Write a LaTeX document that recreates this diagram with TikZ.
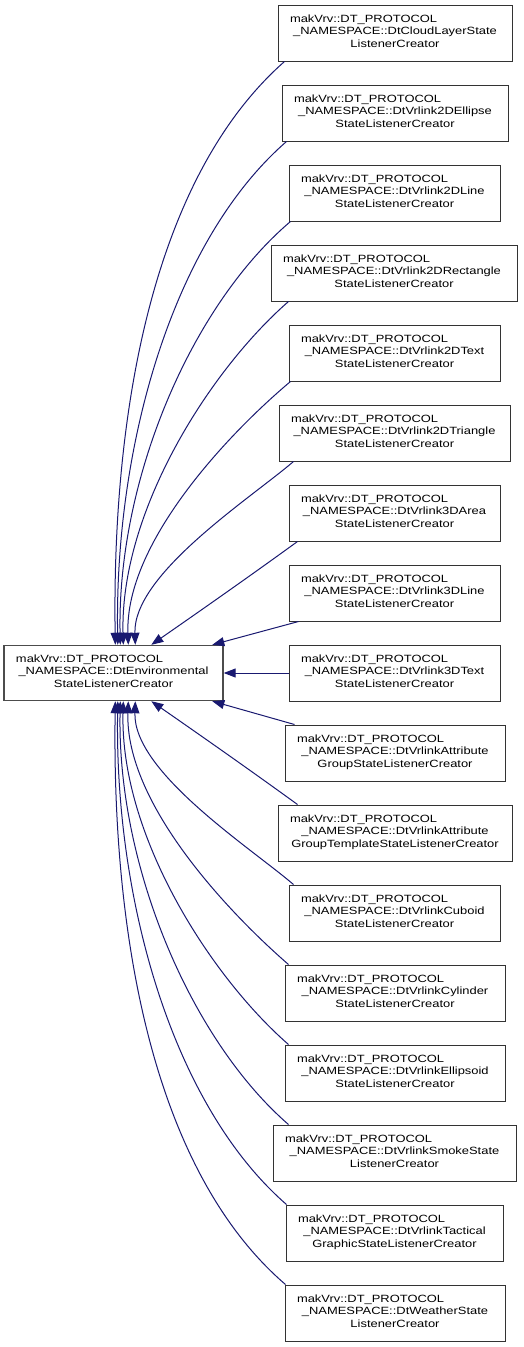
\documentclass[tikz,border=0pt]{standalone}
\usepackage{fontspec}
\newfontfamily\lblfam[FakeStretch=1.23]{Liberation Sans}
\usetikzlibrary{arrows.meta}
\definecolor{mblue}{HTML}{191970}
\definecolor{bordc}{HTML}{333333}
\newcommand{\clslabel}[3]{\makebox[\linewidth][l]{\rule{0pt}{7.7pt}#1}\\\makebox[\linewidth][c]{#2}\\\makebox[\linewidth][c]{#3\rule[-4.7pt]{0pt}{0pt}}}
\tikzset{
  cls/.style={draw=bordc, line width=1pt, fill=white, rectangle, minimum height=56pt,
    inner xsep=12pt, inner ysep=0pt, text width=#1, align=left,
    font={\lblfam\fontsize{10.5pt}{12.5pt}\selectfont}},
  edge/.style={draw=mblue, line width=1pt, -{Triangle[length=12pt,width=9pt,fill=mblue]}}
}
\begin{document}
\begin{tikzpicture}[x=1pt,y=-1pt]
\fill[white] (0,0) rectangle (523,1347);
\useasboundingbox (0,0) rectangle (523,1347);
% base class
\node[cls=195pt, minimum height=55pt, line width=1.4pt, draw=black!70] (L) at (113.5,673) {\clslabel{makVrv::DT\_PROTOCOL}{\_NAMESPACE::DtEnvironmental}{StateListenerCreator}};
% derived classes
\node[cls=210pt] (r1) at (395,33) {\clslabel{makVrv::DT\_PROTOCOL}{\_NAMESPACE::DtCloudLayerState}{ListenerCreator}};
\node[cls=202pt] (r2) at (395,113) {\clslabel{makVrv::DT\_PROTOCOL}{\_NAMESPACE::DtVrlink2DEllipse}{StateListenerCreator}};
\node[cls=187pt] (r3) at (394.5,193) {\clslabel{makVrv::DT\_PROTOCOL}{\_NAMESPACE::DtVrlink2DLine}{StateListenerCreator}};
\node[cls=222pt] (r4) at (394,273) {\clslabel{makVrv::DT\_PROTOCOL}{\_NAMESPACE::DtVrlink2DRectangle}{StateListenerCreator}};
\node[cls=187pt] (r5) at (394.5,353) {\clslabel{makVrv::DT\_PROTOCOL}{\_NAMESPACE::DtVrlink2DText}{StateListenerCreator}};
\node[cls=207pt] (r6) at (394.5,433) {\clslabel{makVrv::DT\_PROTOCOL}{\_NAMESPACE::DtVrlink2DTriangle}{StateListenerCreator}};
\node[cls=187pt] (r7) at (394.5,513) {\clslabel{makVrv::DT\_PROTOCOL}{\_NAMESPACE::DtVrlink3DArea}{StateListenerCreator}};
\node[cls=187pt] (r8) at (394.5,593) {\clslabel{makVrv::DT\_PROTOCOL}{\_NAMESPACE::DtVrlink3DLine}{StateListenerCreator}};
\node[cls=187pt] (r9) at (394.5,673) {\clslabel{makVrv::DT\_PROTOCOL}{\_NAMESPACE::DtVrlink3DText}{StateListenerCreator}};
\node[cls=196pt] (r10) at (395,753) {\clslabel{makVrv::DT\_PROTOCOL}{\_NAMESPACE::DtVrlinkAttribute}{GroupStateListenerCreator}};
\node[cls=210pt] (r11) at (395,833) {\clslabel{makVrv::DT\_PROTOCOL}{\_NAMESPACE::DtVrlinkAttribute}{GroupTemplateStateListenerCreator}};
\node[cls=187pt] (r12) at (394.5,913) {\clslabel{makVrv::DT\_PROTOCOL}{\_NAMESPACE::DtVrlinkCuboid}{StateListenerCreator}};
\node[cls=196pt] (r13) at (395,993) {\clslabel{makVrv::DT\_PROTOCOL}{\_NAMESPACE::DtVrlinkCylinder}{StateListenerCreator}};
\node[cls=196pt] (r14) at (395,1073) {\clslabel{makVrv::DT\_PROTOCOL}{\_NAMESPACE::DtVrlinkEllipsoid}{StateListenerCreator}};
\node[cls=219pt] (r15) at (394.5,1153) {\clslabel{makVrv::DT\_PROTOCOL}{\_NAMESPACE::DtVrlinkSmokeState}{ListenerCreator}};
\node[cls=193pt] (r16) at (394.5,1233) {\clslabel{makVrv::DT\_PROTOCOL}{\_NAMESPACE::DtVrlinkTactical}{GraphicStateListenerCreator}};
\node[cls=196pt] (r17) at (395,1313) {\clslabel{makVrv::DT\_PROTOCOL}{\_NAMESPACE::DtWeatherState}{ListenerCreator}};
% inheritance edges (arrow at base class)
\draw[edge] ([xshift=7pt]r1.south west) .. controls (150,180) and (112,420) .. ([xshift=112pt]L.north west);
\draw[edge] ([xshift=5pt]r2.south west) .. controls (171,242) and (114.5,449) .. ([xshift=114.5pt]L.north west);
\draw[edge] ([xshift=2pt]r3.south west) .. controls (191,306) and (117,480) .. ([xshift=117pt]L.north west);
\draw[edge] ([xshift=18pt]r4.south west) .. controls (210,370) and (120,511) .. ([xshift=120pt]L.north west);
\draw[edge] ([xshift=2pt]r5.south west) .. controls (228,434) and (125,543) .. ([xshift=125pt]L.north west);
\draw[edge] ([xshift=15pt]r6.south west) .. controls (251,498) and (133,574) .. ([xshift=132pt]L.north west);
\draw[edge] ([xshift=9pt]r7.south west) .. controls (250,576) and (200,611) .. ([xshift=148pt]L.north west);
\draw[edge] ([xshift=10pt]r8.south west) -- ([xshift=209pt]L.north west);
\draw[edge] (r9.west) -- (L.east);
\draw[edge] ([xshift=10pt]r10.north west) -- ([xshift=209pt]L.south west);
\draw[edge] ([xshift=20pt]r11.north west) .. controls (250,770) and (200,735) .. ([xshift=148pt]L.south west);
\draw[edge] ([xshift=5pt]r12.north west) .. controls (251,848) and (133,772) .. ([xshift=132pt]L.south west);
\draw[edge] ([xshift=4pt]r13.north west) .. controls (228,912) and (125,803) .. ([xshift=125pt]L.south west);
\draw[edge] ([xshift=4pt]r14.north west) .. controls (210,976) and (120,835) .. ([xshift=120pt]L.south west);
\draw[edge] ([xshift=16pt]r15.north west) .. controls (191,1040) and (117,866) .. ([xshift=117pt]L.south west);
\draw[edge] ([xshift=1pt]r16.north west) .. controls (171,1104) and (114.5,897) .. ([xshift=114.5pt]L.south west);
\draw[edge] ([xshift=1pt]r17.north west) .. controls (150,1168) and (112,928) .. ([xshift=112pt]L.south west);
\end{tikzpicture}
\end{document}
